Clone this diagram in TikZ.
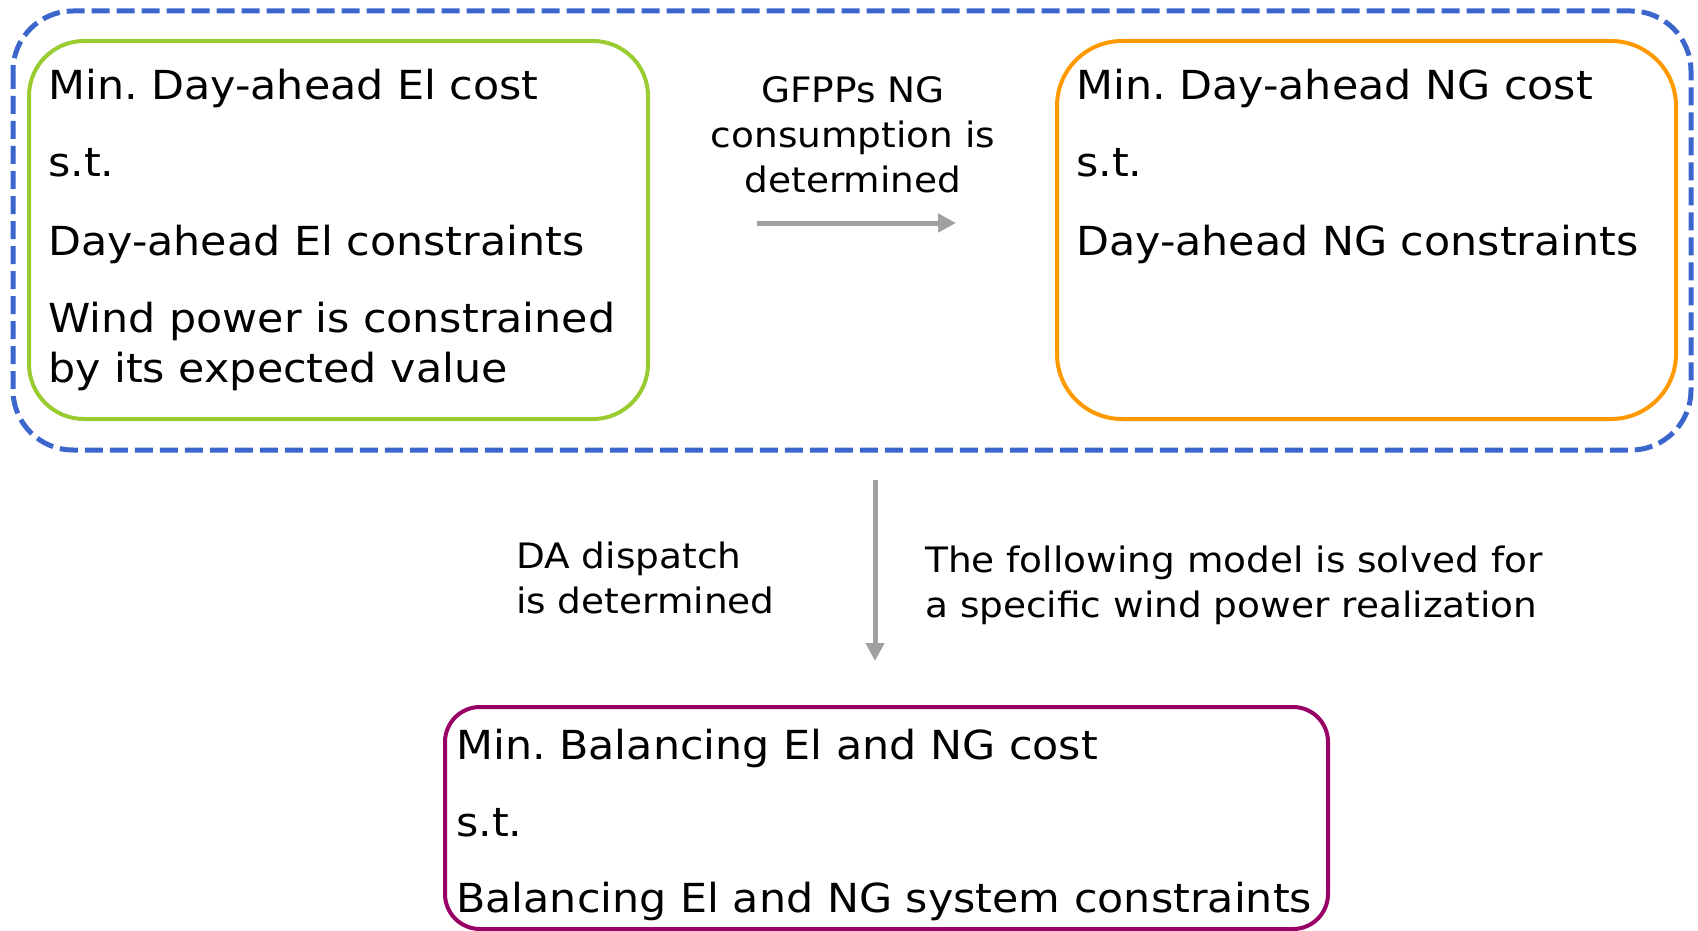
\documentclass[tikz,border=0pt]{standalone}
\usepackage{fontspec}
\setmainfont{DejaVu Sans}[FakeStretch=1.07]
\usetikzlibrary{arrows.meta}
\definecolor{frameblue}{RGB}{59,102,204}
\definecolor{elgreen}{RGB}{154,204,50}
\definecolor{ngorange}{RGB}{255,153,0}
\definecolor{balpurple}{RGB}{153,0,102}
\definecolor{flowgray}{RGB}{160,160,160}
\frenchspacing
\begin{document}
\begin{tikzpicture}[x=1pt,y=-1pt,
  modelbox/.style={line width=4pt, rounded corners=#1},
  bigtext/.style={anchor=base west, inner sep=0pt, font=\fontsize{40}{50}\selectfont},
  midtext/.style={inner sep=0pt, font=\fontsize{35}{45}\selectfont},
  flow/.style={draw=flowgray, line width=5pt, -{Triangle[length=18pt,width=18pt]}}
]
\useasboundingbox (0,0) rectangle (1698,931);

% stage one: day-ahead models inside the dashed frame
\draw[frameblue, line width=5pt, dash pattern=on 18pt off 7pt, rounded corners=60pt]
  (13,11) rectangle (1691,450);
\draw[modelbox=55pt, elgreen] (29,41) rectangle (648,419);
\draw[modelbox=65pt, ngorange] (1057,41) rectangle (1676,419);

\node[bigtext] (el1) at (48,100) {Min. Day-ahead El cost};
\node[bigtext] (el2) at (48,177) {s.t.};
\node[bigtext] (el3) at (48,255) {Day-ahead El constraints};
\node[bigtext] (el4) at (48,332) {Wind power is constrained};
\node[bigtext] (el5) at (48,382) {by its expected value};

\node[bigtext] (ng1) at (1076,100) {Min. Day-ahead NG cost};
\node[bigtext] (ng2) at (1076,177) {s.t.};
\node[bigtext] (ng3) at (1076,255) {Day-ahead NG constraints};

% coupling between the two day-ahead models
\node[midtext, anchor=base] (gfpp1) at (853,103) {GFPPs NG};
\node[midtext, anchor=base] (gfpp2) at (853,148) {consumption is};
\node[midtext, anchor=base] (gfpp3) at (853,193) {determined};
\coordinate (hstart) at (757,223);
\coordinate (hend) at (956,223);
\draw[flow] (hstart) -- (hend);

% stage two: balancing model
\coordinate (vstart) at (875,480);
\coordinate (vend) at (875,661);
\draw[flow] (vstart) -- (vend);
\node[midtext, anchor=base west] (da1) at (516,568) {DA dispatch};
\node[midtext, anchor=base west] (da2) at (516,613) {is determined};
\node[midtext, anchor=base west] (rz1) at (925,572) {The following model is solved for};
\node[midtext, anchor=base west] (rz2) at (925,617) {a specific wind power realization};

\draw[modelbox=35pt, balpurple] (445,707) rectangle (1328,929);
\node[bigtext] (b1) at (456,759) {Min. Balancing El and NG cost};
\node[bigtext] (b2) at (456,836) {s.t.};
\node[bigtext] (b3) at (456,912) {Balancing El and NG system constraints};
\end{tikzpicture}
\end{document}
